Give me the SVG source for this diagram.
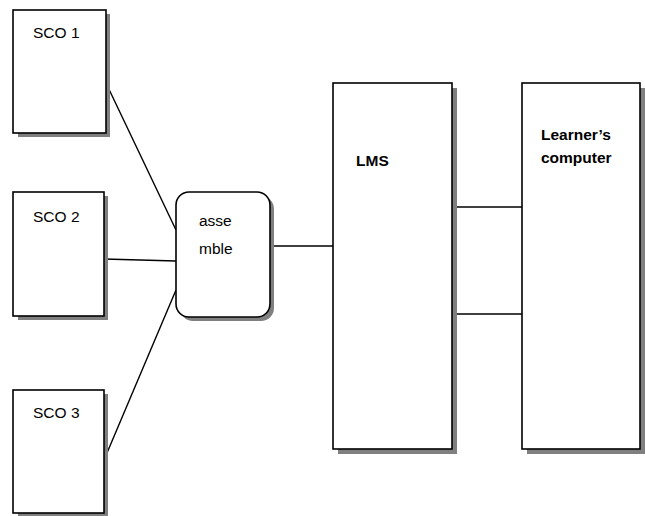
<svg xmlns="http://www.w3.org/2000/svg" width="645" height="516" viewBox="0 0 645 516">
<style>
.box{fill:#fff;stroke:#000;stroke-width:1.6}
.sh{fill:#808080}
.t{font-family:"Liberation Sans",Arial,sans-serif;font-size:15.5px;fill:#000}
.b{font-family:"Liberation Sans",Arial,sans-serif;font-size:15.5px;font-weight:bold;fill:#000}
.c{stroke:#000;stroke-width:1.4;fill:none}
</style>
<rect width="645" height="516" fill="#fff"/>
<g id="connectors">
<line class="c" x1="106" y1="83" x2="176" y2="230"/>
<line class="c" x1="104" y1="259" x2="176" y2="261"/>
<line class="c" x1="104" y1="460" x2="176" y2="290"/>
<line class="c" x1="270" y1="246" x2="333" y2="246"/>
<line class="c" x1="452" y1="207" x2="522" y2="207"/>
<line class="c" x1="452" y1="314" x2="522" y2="314"/>
</g>
<g id="sco1">
<rect class="sh" x="18" y="14" width="92" height="123"/>
<rect class="box" x="13" y="10" width="93" height="123"/>
<text class="t" x="33" y="38">SCO 1</text>
</g>
<g id="sco2">
<rect class="sh" x="18" y="196" width="90" height="124"/>
<rect class="box" x="13" y="192" width="91" height="124"/>
<text class="t" x="33" y="222">SCO 2</text>
</g>
<g id="sco3">
<rect class="sh" x="18" y="394" width="90" height="122"/>
<rect class="box" x="13" y="390" width="91" height="123"/>
<text class="t" x="33" y="418">SCO 3</text>
</g>
<g id="assemble">
<rect class="sh" x="180" y="196" width="94" height="125" rx="13"/>
<rect class="box" x="176" y="192" width="94" height="125" rx="13"/>
<text class="t" x="199" y="226">asse</text>
<text class="t" x="199" y="254">mble</text>
</g>
<g id="lms">
<rect class="sh" x="338" y="88" width="119" height="366"/>
<rect class="box" x="333" y="83" width="119" height="366"/>
<text class="b" x="356" y="166">LMS</text>
</g>
<g id="learner">
<rect class="sh" x="527" y="88" width="118" height="366"/>
<rect class="box" x="522" y="83" width="118" height="366"/>
<text class="b" x="541" y="140">Learner’s</text>
<text class="b" x="541" y="163">computer</text>
</g>
</svg>
